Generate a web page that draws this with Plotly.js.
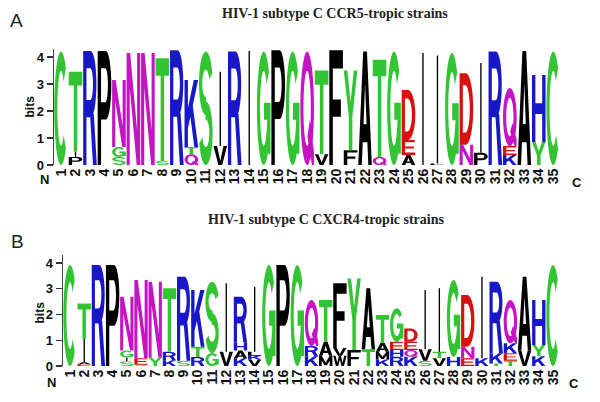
<!DOCTYPE html>
<html>
<head>
<meta charset="utf-8">
<script src="https://cdn.plot.ly/plotly-3.0.1.min.js"></script>
<style>html,body{margin:0;padding:0;background:#fff;}#chart{width:600px;height:402px;}</style>
</head>
<body>
<div id="chart"></div>
<script>
// ---------------- DATA ----------------
const positions = [1,2,3,4,5,6,7,8,9,10,11,12,13,14,15,16,17,18,19,20,21,22,23,24,25,26,27,28,29,30,31,32,33,34,35];
const tickLabels = ["1","2","3","4","5","6","7","8","9","10","11","12","13","14","15","16","17","18","19","20","21","22","23","24","25","26","27","28","29","30","31","32","33","34","35"];

// Panel A: CCR5-tropic. Letters listed bottom -> top, with the height (bits) of each letter.
const ccr5Letters = ["C","PIT","R","P","SGN","N","N","ST","R","QTK","S","VI","R","I","G","P","G","Q","VT","F","FY","A","QT","G","AED","I","LI","G","ND","PI","R","KEQ","A","YH","C"];
const ccr5Bits = [[4.2],[0.3,0.2,2.95],[4.22],[4.22],[0.3,0.37,2.48],[4.15],[4.15],[0.15,3.8],[4.25],[0.4,0.27,2.48],
  [4.2],[0.7,2.75],[4.2],[4.22],[4.2],[4.25],[4.2],[4.2],[0.4,3.1],[4.25],
  [0.55,2.95],[4.2],[0.3,3.6],[4.2],[0.37,0.56,1.85],[4.15],[0.06,4.0],[4.15],[0.75,2.65],[0.45,3.33],
  [4.2],[0.37,0.33,2.15],[4.22],[0.85,2.48],[4.2]];

// Panel B: CXCR4-tropic
const cxcr4Letters = ["C","EAIT","R","P","SIGN","SEN","YN","KRT","SR","RTK","GS","VI","KAHR","VKLI","G","P","G","KRQ","MAT","WVF","FY","TA","KMAT","RHEG","KQED","SVI","VTI","HG","END","KI","TKR","TEKQ","VA","KYH","C"];
const cxcr4Bits = [[3.92],[0.07,0.08,0.9,1.38],[3.92],[3.92],[0.18,0.15,0.27,2.09],[0.05,0.25,3.04],[0.32,2.95],[0.22,0.33,2.47],[0.2,3.27],[0.35,0.4,2.2],
  [0.5,2.77],[0.55,2.66],[0.3,0.3,0.3,1.79],[0.25,0.15,0.15,2.53],[3.92],[3.92],[3.92],[0.38,0.4,1.78],[0.4,0.54,1.62],[0.4,0.3,2.51],
  [0.62,2.78],[0.65,2.37],[0.25,0.3,0.35,1.08],[0.36,0.26,0.32,1.3],[0.36,0.26,0.32,0.52],[0.2,0.45,2.3],[0.3,0.25,2.47],[0.35,2.99],[0.3,0.45,2.01],[0.3,3.17],
  [0.1,0.4,2.77],[0.2,0.3,0.38,1.68],[0.6,2.87],[0.38,0.44,1.74],[3.92]];

const yTicks = [0,1,2,3,4];
const titleA = "HIV-1 subtype C CCR5-tropic strains";
const titleB = "HIV-1 subtype C CXCR4-tropic strains";

// ---------------- COLOURS ----------------
const GREEN = '#33C433', BLUE = '#1818C8', MAGENTA = '#C414C4', RED = '#D81010', BLACK = '#000000';
const colorOf = {G:GREEN,S:GREEN,T:GREEN,Y:GREEN,C:GREEN,N:MAGENTA,Q:MAGENTA,K:BLUE,R:BLUE,H:BLUE,D:RED,E:RED,
  A:BLACK,V:BLACK,L:BLACK,I:BLACK,P:BLACK,W:BLACK,F:BLACK,M:BLACK};

// ---------------- GLYPHS (unit box) ----------------
function ell(cx,cy,rx,ry,a0,a1,n){n=n||36;const p=[];for(let i=0;i<=n;i++){const a=(a0+(a1-a0)*i/n)*Math.PI/180;p.push([cx+rx*Math.cos(a),cy+ry*Math.sin(a)]);}return p;}
function area(p){let s=0;for(let i=0;i<p.length;i++){const a=p[i],b=p[(i+1)%p.length];s+=a[0]*b[1]-b[0]*a[1];}return s/2;}
function solid(p){return area(p)<0?p.slice().reverse():p;}
function hole(p){return area(p)>0?p.slice().reverse():p;}
function rect(x0,y0,x1,y1){return [[x0,y0],[x1,y0],[x1,y1],[x0,y1]];}
function band(cx,cy,rxo,ryo,rxi,ryi,a0,a1){return ell(cx,cy,rxo,ryo,a0,a1,40).concat(ell(cx,cy,rxi,ryi,a1,a0,40));}

const glyphs = {
  C: [solid(band(0.5,0.5,0.5,0.5,0.27,0.33,45,315))],
  G: [solid(band(0.5,0.5,0.5,0.5,0.27,0.33,40,355)), solid(rect(0.52,0.4,1.0,0.55)), solid(rect(0.78,0.1,1.0,0.55))],
  Q: [solid(ell(0.5,0.5,0.5,0.5,0,360,60)), hole(ell(0.5,0.5,0.27,0.33,0,360,60)), solid([[0.52,0.25],[0.7,0.4],[1.0,0.12],[1.0,0.0],[0.85,0.0]])],
  D: [solid([[0,0],[0.45,0]].concat(ell(0.45,0.5,0.55,0.5,-90,90),[[0,1]])),
      hole([[0.24,0.17],[0.42,0.17]].concat(ell(0.42,0.5,0.33,0.33,-90,90),[[0.24,0.83]]))],
  P: [solid([[0,0],[0.25,0],[0.25,0.4],[0.6,0.4]].concat(ell(0.6,0.7,0.4,0.3,-90,90),[[0,1]])),
      hole([[0.25,0.55],[0.56,0.55]].concat(ell(0.56,0.7,0.19,0.15,-90,90),[[0.25,0.85]]))],
  R: [solid([[0,0],[0.24,0],[0.24,0.42],[0.55,0.42]].concat(ell(0.55,0.71,0.42,0.29,-90,90),[[0,1]])),
      hole([[0.24,0.57],[0.52,0.57]].concat(ell(0.52,0.71,0.2,0.14,-90,90),[[0.24,0.85]])),
      solid([[0.5,0.45],[0.78,0.45],[1.0,0],[0.72,0]])],
  A: [solid([[0,0],[0.26,0],[0.33,0.2],[0.67,0.2],[0.74,0],[1,0],[0.64,1],[0.36,1]]), hole([[0.39,0.36],[0.61,0.36],[0.5,0.72]])],
  S: [solid(band(0.5,0.72,0.5,0.28,0.26,0.12,18,275)), solid(band(0.5,0.28,0.5,0.28,0.26,0.12,-162,95))],
  E: [solid(rect(0,0,0.24,1)), solid(rect(0,0,1,0.16)), solid(rect(0,0.43,0.9,0.57)), solid(rect(0,0.84,0.96,1))],
  F: [solid(rect(0,0,0.26,1)), solid(rect(0,0.42,0.85,0.57)), solid(rect(0,0.84,1,1))],
  H: [solid(rect(0,0,0.25,1)), solid(rect(0.75,0,1,1)), solid(rect(0,0.42,1,0.58))],
  I: [solid(rect(0.45,0,0.55,1))],
  K: [solid(rect(0,0,0.25,1)), solid([[0.22,0.25],[1.0,1.0],[0.68,1.0],[0.22,0.55]]), solid([[0.4,0.5],[0.72,0],[1,0],[0.58,0.66]])],
  L: [solid(rect(0,0,0.26,1)), solid(rect(0,0,1,0.17))],
  M: [solid(rect(0,0,0.2,1)), solid(rect(0.8,0,1,1)), solid([[0,1],[0.2,1],[0.5,0.35],[0.8,1],[1,1],[0.6,0.08],[0.4,0.08]])],
  N: [solid(rect(0,0,0.23,1)), solid(rect(0.77,0,1,1)), solid([[0,1],[0.26,1],[1,0],[0.74,0]])],
  T: [solid(rect(0,0.83,1,1)), solid(rect(0.37,0,0.63,1))],
  V: [solid([[0,1],[0.26,1],[0.5,0.22],[0.74,1],[1,1],[0.64,0],[0.36,0]])],
  W: [solid([[0,1],[0.18,1],[0.3,0.3],[0.42,1],[0.58,1],[0.7,0.3],[0.82,1],[1,1],[0.8,0],[0.62,0],[0.5,0.62],[0.38,0],[0.2,0]])],
  Y: [solid([[0,1],[0.27,1],[0.5,0.6],[0.73,1],[1,1],[0.63,0.42],[0.63,0],[0.37,0],[0.37,0.42]])]
};

// ---------------- BUILD SHAPES ----------------
function buildLogo(letters, bits, xref, yref){
  const shapes = [];
  const pad = 0.03;
  positions.forEach((pos, i) => {
    let base = 0;
    const ls = letters[i], hs = bits[i];
    for (let k = 0; k < ls.length; k++){
      const ch = ls[k], h = hs[k];
      const polys = glyphs[ch];
      const path = polys.map(p => 'M' + p.map(pt => {
        const x = pos - 0.5 + pad + pt[0]*(1 - 2*pad);
        const y = base + pt[1]*h;
        return x.toFixed(4) + ',' + y.toFixed(4);
      }).join('L') + 'Z').join('');
      shapes.push({type:'path', xref:xref, yref:yref, path:path, fillcolor:colorOf[ch],
        line:{width:0}, fillrule:'nonzero', layer:'above'});
      base += h;
    }
  });
  return shapes;
}

const W = 600, H = 402;
const px = x => x / W, py = y => 1 - y / H;
const yTop = 4.3;

const SANS = 'Liberation Sans, Arial, sans-serif';
const xTickFont = {family:SANS, size:14, color:'#111', weight:700};
const yTickFont = {family:SANS, size:13, color:'#111', weight:700};

const shapes = buildLogo(ccr5Letters, ccr5Bits, 'x', 'y').concat(buildLogo(cxcr4Letters, cxcr4Bits, 'x2', 'y2'));

function xAxis(d0, d1, anchor){
  return {domain:[px(d0), px(d1)], range:[0.5, 35.5], anchor:anchor, tickmode:'array', tickvals:positions, ticktext:tickLabels,
    tickangle:-90, tickfont:xTickFont, showgrid:false, zeroline:false, showline:false, ticks:'', fixedrange:true};
}
function yAxis(d0, d1, anchor){
  return {domain:[d0, d1], range:[0, yTop], anchor:anchor, tickmode:'array', tickvals:yTicks, ticktext:yTicks.map(String),
    tickfont:yTickFont, ticks:'outside', ticklen:6, tickwidth:1.3, tickcolor:'#333', showline:true, linecolor:'#444', linewidth:1.3,
    showgrid:false, zeroline:false, fixedrange:true};
}

const ann = (text, x, y, size, opts) => Object.assign({text:text, x:px(x), y:py(y), xref:'paper', yref:'paper', showarrow:false,
  xanchor:'center', yanchor:'middle', font:{family:SANS, size:size, color:'#222'}}, opts||{});

const serif = {family:'Liberation Serif, Times New Roman, serif', size:14, color:'#222', weight:'bold'};
const boldSans = s => ({family:SANS, size:s, color:'#111', weight:700});

const layout = {
  width:W, height:H, margin:{l:0,r:0,t:0,b:0}, paper_bgcolor:'#fff', plot_bgcolor:'rgba(0,0,0,0)', showlegend:false,
  xaxis: xAxis(53.8, 560.5, 'y'),
  yaxis: yAxis(py(165), py(165 - yTop*27), 'x'),
  xaxis2: xAxis(62.9, 560.1, 'y2'),
  yaxis2: yAxis(py(366), py(366 - yTop*25.75), 'x2'),
  shapes: shapes,
  annotations: [
    ann(titleA, 335, 13, 14, {font:serif}),
    ann(titleB, 326, 220, 14, {font:serif}),
    ann('A', 16, 20, 19),
    ann('B', 17.5, 241.5, 19),
    ann('bits', 29, 106.5, 12, {textangle:-90, font:boldSans(12)}),
    ann('bits', 39, 312.5, 12, {textangle:-90, font:boldSans(12)}),
    ann('N', 44, 180, 13, {font:boldSans(13)}),
    ann('C', 577, 182, 13, {font:boldSans(13)}),
    ann('N', 51, 382, 13, {font:boldSans(13)}),
    ann('C', 574, 383, 13, {font:boldSans(13)})
  ]
};

const data = [
  {type:'scatter', x:[positions[0]], y:[0], xaxis:'x', yaxis:'y', mode:'markers', marker:{opacity:0}, hoverinfo:'skip', showlegend:false},
  {type:'scatter', x:[positions[0]], y:[0], xaxis:'x2', yaxis:'y2', mode:'markers', marker:{opacity:0}, hoverinfo:'skip', showlegend:false}
];

Plotly.newPlot('chart', data, layout, {staticPlot:true, displayModeBar:false});
</script>
</body>
</html>
